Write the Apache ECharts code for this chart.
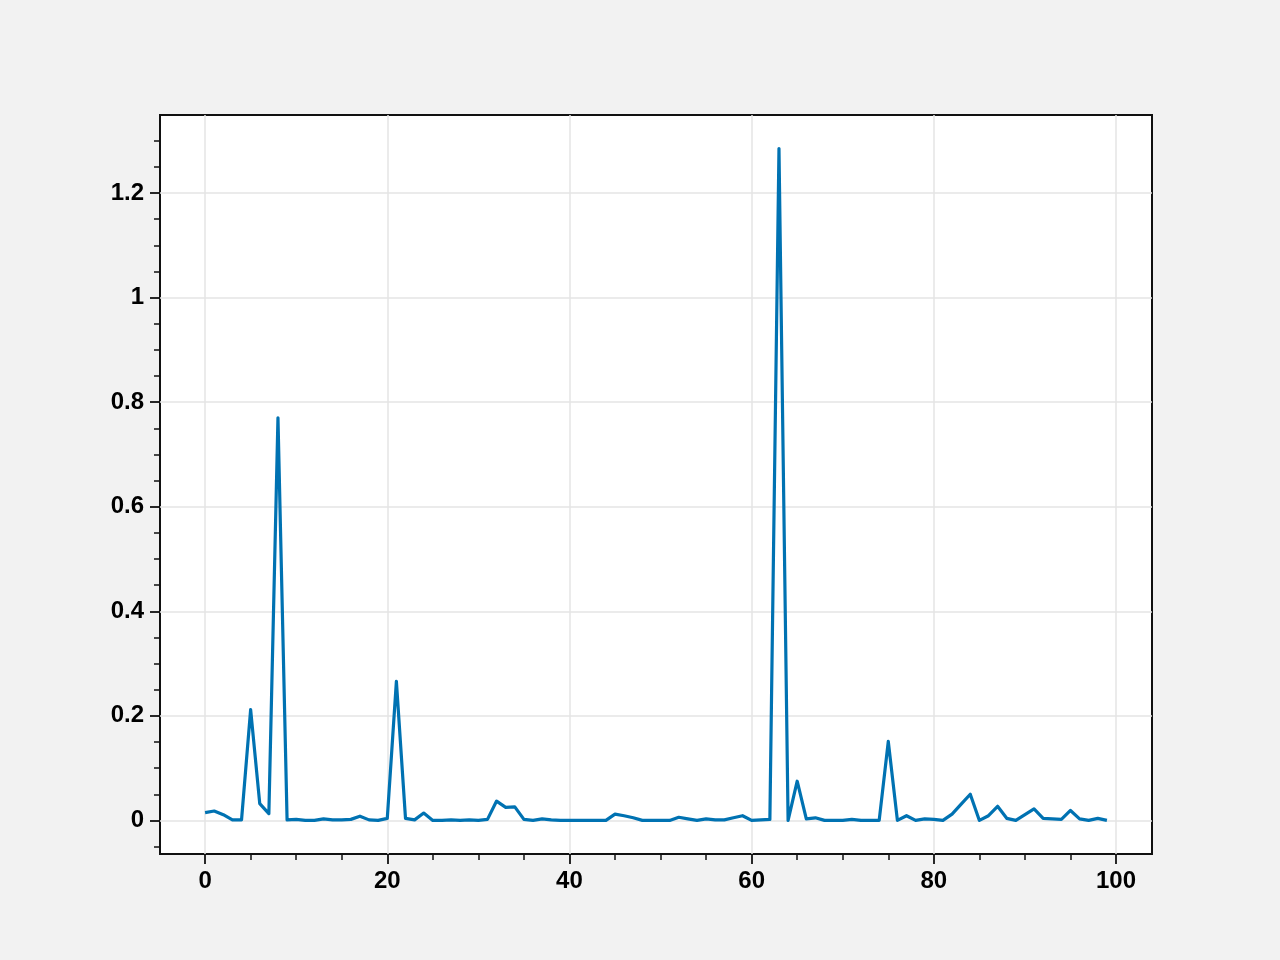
<!DOCTYPE html>
<html>
<head>
<meta charset="utf-8">
<script src="https://cdn.jsdelivr.net/npm/echarts@6/dist/echarts.min.js"></script>
<style>
html,body{margin:0;padding:0;background:#f2f2f2;}
#chart{width:1280px;height:960px;}
</style>
</head>
<body>
<div id="chart"></div>
<script>
const values = [
  0.015, 0.018, 0.011, 0.001, 0.001, 0.212, 0.032, 0.013, 0.770, 0.001,
  0.002, 0.000, 0.000, 0.003, 0.001, 0.001, 0.002, 0.008, 0.001, 0.000,
  0.004, 0.266, 0.004, 0.001, 0.014, 0.000, 0.000, 0.001, 0.000, 0.001,
  0.000, 0.002, 0.037, 0.025, 0.026, 0.002, 0.000, 0.003, 0.001, 0.000,
  0.000, 0.000, 0.000, 0.000, 0.000, 0.012, 0.009, 0.005, 0.000, 0.000,
  0.000, 0.000, 0.006, 0.003, 0.000, 0.003, 0.001, 0.001, 0.005, 0.009,
  0.000, 0.001, 0.002, 1.285, 0.000, 0.075, 0.003, 0.005, 0.000, 0.000,
  0.000, 0.002, 0.000, 0.000, 0.000, 0.151, 0.000, 0.009, 0.000, 0.003,
  0.002, 0.000, 0.012, 0.031, 0.050, 0.000, 0.009, 0.027, 0.004, 0.000,
  0.011, 0.022, 0.004, 0.003, 0.002, 0.019, 0.003, 0.000, 0.004, 0.000
];
const xMajorTicks = [0, 20, 40, 60, 80, 100];
const xMinorTicks = [5, 10, 15, 25, 30, 35, 45, 50, 55, 65, 70, 75, 85, 90, 95];
const yMajorTicks = [0, 0.2, 0.4, 0.6, 0.8, 1, 1.2];
const yMinorTicks = [-0.05, 0.05, 0.1, 0.15, 0.25, 0.3, 0.35, 0.45, 0.5, 0.55, 0.65, 0.7, 0.75, 0.85, 0.9, 0.95, 1.05, 1.1, 1.15, 1.25, 1.3];

const xMin = -4.95, xMax = 103.95;
const yMin = -0.06425, yMax = 1.34925;

const font = {fontFamily: 'Liberation Sans', fontWeight: 'bold', fontSize: 24, color: '#000'};
const tickColor = '#111';

const chart = echarts.init(document.getElementById('chart'), null, {renderer: 'canvas'});
chart.setOption({
  backgroundColor: '#f2f2f2',
  animation: false,
  grid: {
    left: 160, right: 128, top: 115, bottom: 106,
    show: true, backgroundColor: '#ffffff', borderColor: tickColor, borderWidth: 2,
    containLabel: false
  },
  xAxis: [
    {
      type: 'value', min: xMin, max: xMax, position: 'bottom',
      axisLine: {show: false, onZero: false},
      axisTick: {show: true, customValues: xMajorTicks, length: 10, lineStyle: {color: tickColor, width: 1.8}},
      axisLabel: Object.assign({customValues: xMajorTicks, margin: 15}, font),
      splitLine: {show: true, lineStyle: {color: '#e4e4e4', width: 1.5}},
      minorTick: {show: false}
    },
    {
      type: 'value', min: xMin, max: xMax, position: 'bottom',
      axisLine: {show: false, onZero: false},
      axisTick: {show: true, customValues: xMinorTicks, length: 6, lineStyle: {color: tickColor, width: 1.5}},
      axisLabel: {show: false},
      splitLine: {show: false}
    }
  ],
  yAxis: [
    {
      type: 'value', min: yMin, max: yMax, position: 'left',
      axisLine: {show: false, onZero: false},
      axisTick: {show: true, customValues: yMajorTicks, length: 10, lineStyle: {color: tickColor, width: 1.8}},
      axisLabel: Object.assign({customValues: yMajorTicks, margin: 16}, font),
      splitLine: {show: true, lineStyle: {color: '#e4e4e4', width: 1.5}},
      minorTick: {show: false}
    },
    {
      type: 'value', min: yMin, max: yMax, position: 'left',
      axisLine: {show: false, onZero: false},
      axisTick: {show: true, customValues: yMinorTicks, length: 6, lineStyle: {color: tickColor, width: 1.5}},
      axisLabel: {show: false},
      splitLine: {show: false}
    }
  ],
  series: [{
    type: 'line',
    xAxisIndex: 0, yAxisIndex: 0,
    data: values.map((v, i) => [i, v]),
    showSymbol: false,
    symbol: 'none',
    lineStyle: {color: '#0072b2', width: 3.2, join: 'round'},
    itemStyle: {color: '#0072b2'}
  }]
});
</script>
</body>
</html>
